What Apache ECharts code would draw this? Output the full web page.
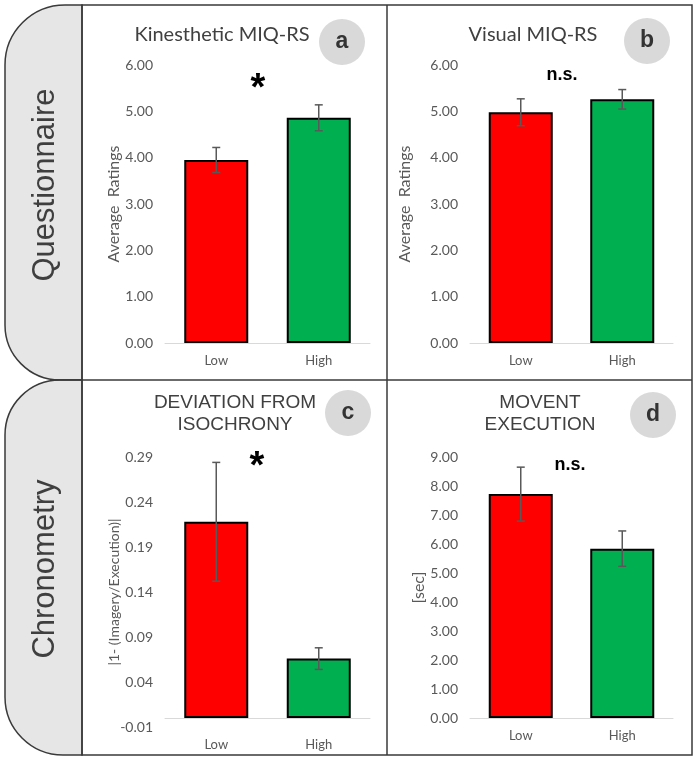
<!DOCTYPE html>
<html>
<head>
<meta charset="utf-8">
<script src="https://cdn.jsdelivr.net/npm/echarts@6/dist/echarts.min.js"></script>
<style>
  html, body { margin: 0; padding: 0; background: #fff; }
  #main { width: 697px; height: 761px; }
</style>
</head>
<body>
<div id="main"></div>
<script>
// groups
var categories = ['Low', 'High'];

// a - kinesthetic MIQ-RS (average ratings)
var kinMean = [3.95, 4.86];
var kinErr = [0.27, 0.28];
// b - visual MIQ-RS
var visMean = [4.98, 5.26];
var visErr = [0.29, 0.21];
// c - deviation from isochrony
var devMean = [0.218, 0.066];
var devErr = [0.066, 0.012];
// d - movement execution [sec]
var movMean = [7.72, 5.84];
var movErr = [0.93, 0.61];

var barColors = ['#ff0000', '#00b050'];
var labelFont = 'Lato';
var gray = '#595959';

var chart = echarts.init(document.getElementById('main'));

function xAxisFor(i) {
  return {
    type: 'category',
    gridIndex: i,
    data: categories,
    axisLine: { lineStyle: { color: '#d9d9d9', width: 1 } },
    axisTick: { show: false },
    axisLabel: { color: gray, fontFamily: labelFont, fontSize: 13, margin: 11 }
  };
}

function yAxisFor(i, min, max, interval, name, nameGap, nameSize) {
  return {
    type: 'value',
    gridIndex: i,
    position: 'left',
    min: min, max: max, interval: interval,
    name: name,
    nameLocation: 'middle',
    nameGap: nameGap,
    nameTextStyle: { color: gray, fontFamily: labelFont, fontSize: nameSize },
    axisLine: { show: false },
    axisTick: { show: false },
    splitLine: { show: false },
    axisLabel: {
      color: gray, fontFamily: labelFont, fontSize: 14, margin: 12,
      formatter: function (v) { return v.toFixed(2); }
    }
  };
}

function barSeries(i, yIdx, means) {
  return {
    type: 'bar',
    xAxisIndex: i,
    yAxisIndex: yIdx,
    barWidth: 64,
    data: means.map(function (m, k) {
      return { value: m, itemStyle: { color: barColors[k] } };
    }),
    itemStyle: { borderColor: '#000', borderWidth: 2 },
    silent: true
  };
}

function errSeries(i, yIdx, means, errs) {
  return {
    type: 'custom',
    xAxisIndex: i,
    yAxisIndex: yIdx,
    silent: true,
    z: 10,
    data: means.map(function (m, k) { return [k, m, errs[k]]; }),
    encode: { x: 0, y: 1 },
    renderItem: function (params, api) {
      var k = api.value(0), m = api.value(1), e = api.value(2);
      var hi = api.coord([k, m + e]);
      var lo = api.coord([k, m - e]);
      var w = 4;
      var st = { stroke: gray, lineWidth: 1.5 };
      return {
        type: 'group',
        children: [
          { type: 'line', shape: { x1: hi[0], y1: hi[1], x2: lo[0], y2: lo[1] }, style: st },
          { type: 'line', shape: { x1: hi[0] - w, y1: hi[1], x2: hi[0] + w, y2: hi[1] }, style: st },
          { type: 'line', shape: { x1: lo[0] - w, y1: lo[1], x2: lo[0] + w, y2: lo[1] }, style: st }
        ]
      };
    }
  };
}

// y axis for panel c: data axis (hidden labels) + label axis shifted by 0.01
var devAxis = yAxisFor(2, -0.01, 0.29, null, '|1- (Imagery/Execution)|', 44, 14);
devAxis.axisLabel = { show: false };
devAxis.interval = undefined;
var devLabelAxis = yAxisFor(2, 0, 0.30, 0.05, '', 0, 14);
devLabelAxis.axisLabel.formatter = function (v) { return (v - 0.01).toFixed(2); };

var lineCol = '#3a3a3a';
var txtCol = '#404040';

function circleLabel(cx, cy, ch) {
  return [
    { type: 'circle', shape: { cx: cx, cy: cy, r: 23 }, style: { fill: '#d9d9d9' }, z: 5 },
    { type: 'text', x: cx, y: cy, z: 6,
      style: { text: ch, fill: '#333', font: 'bold 23px "Liberation Sans"', align: 'center', verticalAlign: 'middle' } }
  ];
}

function txt(x, y, s, font, color) {
  return { type: 'text', x: x, y: y, z: 6,
    style: { text: s, fill: color || txtCol, font: font, align: 'center', verticalAlign: 'middle', lineHeight: 22 } };
}

var graphics = [
  // side tabs
  { type: 'rect', shape: { x: 5, y: 5, width: 77, height: 375, r: [60, 0, 0, 55] },
    style: { fill: '#e6e6e6', stroke: lineCol, lineWidth: 1.5 }, z: 1 },
  { type: 'rect', shape: { x: 5, y: 380, width: 77, height: 375, r: [55, 0, 0, 58] },
    style: { fill: '#e6e6e6', stroke: lineCol, lineWidth: 1.5 }, z: 1 },
  // panel frame
  { type: 'rect', shape: { x: 82, y: 5, width: 610, height: 750 },
    style: { fill: 'none', stroke: lineCol, lineWidth: 1.5 }, z: 2 },
  { type: 'line', shape: { x1: 387, y1: 5, x2: 387, y2: 755 }, style: { stroke: lineCol, lineWidth: 1.5 }, z: 2 },
  { type: 'line', shape: { x1: 55, y1: 380, x2: 692, y2: 380 }, style: { stroke: lineCol, lineWidth: 1.5 }, z: 2 },
  { type: 'text', x: 45, y: 185, rotation: Math.PI / 2, z: 3,
    style: { text: 'Questionnaire', fill: '#3f3f3f', font: '31px "Liberation Sans"', align: 'center', verticalAlign: 'middle' } },
  { type: 'text', x: 45, y: 569, rotation: Math.PI / 2, z: 3,
    style: { text: 'Chronometry', fill: '#3f3f3f', font: '31px "Liberation Sans"', align: 'center', verticalAlign: 'middle' } },
  // titles
  txt(222, 35, 'Kinesthetic MIQ-RS', '20px Lato'),
  txt(533, 35, 'Visual MIQ-RS', '20px Lato'),
  txt(235, 414, 'DEVIATION FROM\nISOCHRONY', '19px "Liberation Sans"'),
  txt(540, 414, 'MOVENT\nEXECUTION', '19px "Liberation Sans"'),
  // significance marks
  txt(258, 90, '*', 'bold 38px "Liberation Sans"', '#000'),
  txt(562, 75, 'n.s.', 'bold 18px "Liberation Sans"', '#000'),
  txt(257, 468, '*', 'bold 38px "Liberation Sans"', '#000'),
  txt(570, 465, 'n.s.', 'bold 18px "Liberation Sans"', '#000')
]
  .concat(circleLabel(342, 42, 'a'))
  .concat(circleLabel(647, 41, 'b'))
  .concat(circleLabel(348, 413, 'c'))
  .concat(circleLabel(653, 415, 'd'));

var option = {
  backgroundColor: '#fff',
  animation: false,
  grid: [
    { left: 165, width: 205, top: 65, height: 278 },
    { left: 470, width: 203, top: 65, height: 278 },
    { left: 165, width: 205, top: 457, height: 270 },
    { left: 470, width: 203, top: 457, height: 261 }
  ],
  xAxis: [xAxisFor(0), xAxisFor(1), xAxisFor(2), xAxisFor(3)],
  yAxis: [
    yAxisFor(0, 0, 6, 1, 'Average  Ratings', 43, 16),
    yAxisFor(1, 0, 6, 1, 'Average  Ratings', 57, 16),
    devAxis,
    yAxisFor(3, 0, 9, 1, '[sec]', 43, 16),
    devLabelAxis
  ],
  series: [
    barSeries(0, 0, kinMean), errSeries(0, 0, kinMean, kinErr),
    barSeries(1, 1, visMean), errSeries(1, 1, visMean, visErr),
    barSeries(2, 2, devMean), errSeries(2, 2, devMean, devErr),
    barSeries(3, 3, movMean), errSeries(3, 3, movMean, movErr)
  ],
  graphic: graphics
};

chart.setOption(option);
</script>
</body>
</html>
